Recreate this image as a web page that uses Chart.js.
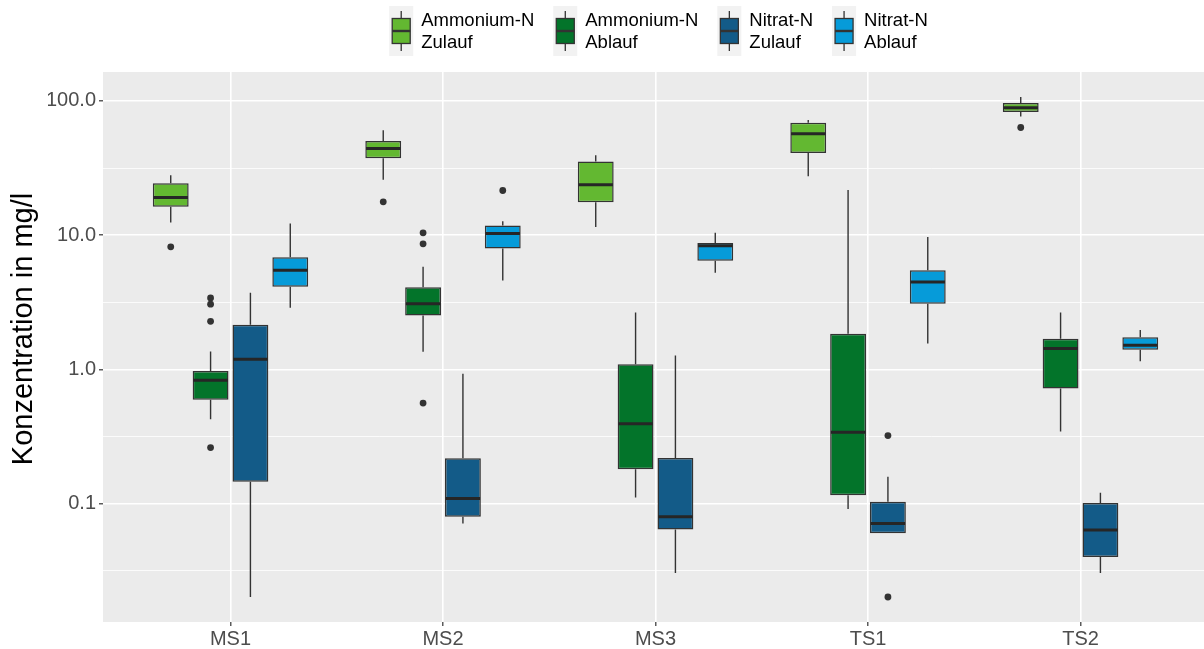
<!DOCTYPE html>
<html>
<head>
<meta charset="utf-8">
<script src="https://cdn.jsdelivr.net/npm/chart.js@4.4.1/dist/chart.umd.min.js"></script>
<style>
  html, body { margin: 0; padding: 0; background: #ffffff; overflow: hidden; }
  #wrap { width: 1208px; height: 649px; position: relative; }
</style>
</head>
<body>
<div id="wrap"><canvas id="c" width="1208" height="649"></canvas></div>
<script>
// ---------------- DATA ----------------
const categories = ['MS1', 'MS2', 'MS3', 'TS1', 'TS2'];
const seriesLabels = [['Ammonium-N', 'Zulauf'], ['Ammonium-N', 'Ablauf'], ['Nitrat-N', 'Zulauf'], ['Nitrat-N', 'Ablauf']];
const seriesColors = ['#63B831', '#03742A', '#135B88', '#069BD9'];
const yTitle = 'Konzentration in mg/l';

// Ammonium-N Zulauf
const amZuLow  = [12.4, 25.9, 11.5, 27.5, 76.6];
const amZuQ1   = [16.3, 37.4, 17.6, 40.9, 82.7];
const amZuMed  = [19.1, 44.2, 23.7, 57.0, 88.9];
const amZuQ3   = [24.4, 50.3, 35.3, 68.9, 96.5];
const amZuHigh = [28.0, 60.4, 39.3, 72.2, 107];
const amZuOut  = [[8.18], [17.7], [], [], [63.4]];

// Ammonium-N Ablauf
const amAbLow  = [0.424, 1.35, 0.111, 0.091, 0.344];
const amAbQ1   = [0.594, 2.52, 0.180, 0.115, 0.718];
const amAbMed  = [0.83, 3.08, 0.393, 0.339, 1.43];
const amAbQ3   = [0.97, 4.09, 1.09, 1.84, 1.69];
const amAbHigh = [1.36, 5.80, 2.65, 21.7, 2.65];
const amAbOut  = [[3.40, 3.06, 2.28, 0.261], [10.4, 8.62, 0.56], [], [], []];

// Nitrat-N Zulauf
const niZuLow  = [0.0201, 0.071, 0.0304, 0.0601, 0.0304];
const niZuQ1   = [0.145, 0.0798, 0.0641, 0.0601, 0.040];
const niZuMed  = [1.19, 0.109, 0.0798, 0.071, 0.0634];
const niZuQ3   = [2.15, 0.217, 0.218, 0.103, 0.101];
const niZuHigh = [3.72, 0.927, 1.27, 0.158, 0.120];
const niZuOut  = [[], [], [], [0.321, 0.0201], []];

// Nitrat-N Ablauf
const niAbLow  = [2.87, 4.60, 5.25, 1.56, 1.15];
const niAbQ1   = [4.12, 7.94, 6.45, 3.08, 1.40];
const niAbMed  = [5.47, 10.3, 8.32, 4.47, 1.51];
const niAbQ3   = [6.85, 11.8, 8.73, 5.47, 1.73];
const niAbHigh = [12.2, 12.7, 10.4, 9.70, 1.96];
const niAbOut  = [[], [21.5], [], [], []];

// y-axis ticks
const majorTicks = [0.1, 1, 10, 100];
const majorTickLabels = ['0.1', '1.0', '10.0', '100.0'];
const minorTicks = [0.0316, 0.316, 3.16, 31.6];

// ---------------- BUILD ----------------
const seriesStats = [
  { low: amZuLow, q1: amZuQ1, med: amZuMed, q3: amZuQ3, high: amZuHigh, out: amZuOut },
  { low: amAbLow, q1: amAbQ1, med: amAbMed, q3: amAbQ3, high: amAbHigh, out: amAbOut },
  { low: niZuLow, q1: niZuQ1, med: niZuMed, q3: niZuQ3, high: niZuHigh, out: niZuOut },
  { low: niAbLow, q1: niAbQ1, med: niAbMed, q3: niAbQ3, high: niAbHigh, out: niAbOut }
];

// y range like ggplot: data range on log scale expanded by 5%
const allVals = [];
seriesStats.forEach(s => { allVals.push(...s.low, ...s.high); s.out.forEach(o => allVals.push(...o)); });
const lmin = Math.log10(Math.min(...allVals)), lmax = Math.log10(Math.max(...allVals));
const lexp = (lmax - lmin) * 0.05;
const yMin = Math.pow(10, lmin - lexp), yMax = Math.pow(10, lmax + lexp);

const FONT = '"Liberation Sans", Arial, "DejaVu Sans", sans-serif';
Chart.defaults.font.family = FONT;

const datasets = seriesStats.map((s, di) => ({
  label: seriesLabels[di].join(' '),
  data: categories.map((c, i) => ({ x: i, y: [s.q1[i], s.q3[i]] })),
  backgroundColor: seriesColors[di],
  borderColor: '#333333',
  borderWidth: 1.5,
  borderSkipped: false,
  categoryPercentage: 0.75,
  barPercentage: 0.9
}));

const boxPlugin = {
  id: 'boxplot',
  beforeDraw(chart) {
    const { ctx, chartArea: a } = chart;
    ctx.save();
    ctx.fillStyle = '#EBEBEB';
    ctx.fillRect(a.left, a.top, a.right - a.left, a.bottom - a.top);
    ctx.restore();
  },
  beforeDatasetsDraw(chart) {
    const ctx = chart.ctx, y = chart.scales.y;
    ctx.save();
    ctx.strokeStyle = '#333333';
    ctx.lineWidth = 1.4;
    seriesStats.forEach((s, di) => {
      chart.getDatasetMeta(di).data.forEach((el, i) => {
        ctx.beginPath();
        ctx.moveTo(el.x, y.getPixelForValue(s.high[i]));
        ctx.lineTo(el.x, y.getPixelForValue(s.q3[i]));
        ctx.moveTo(el.x, y.getPixelForValue(s.q1[i]));
        ctx.lineTo(el.x, y.getPixelForValue(s.low[i]));
        ctx.stroke();
      });
    });
    ctx.restore();
  },
  afterDatasetsDraw(chart) {
    const ctx = chart.ctx, y = chart.scales.y;
    ctx.save();
    seriesStats.forEach((s, di) => {
      chart.getDatasetMeta(di).data.forEach((el, i) => {
        const half = el.width / 2 - 0.75;
        const ym = y.getPixelForValue(s.med[i]);
        ctx.strokeStyle = '#262626';
        ctx.lineWidth = 3;
        ctx.beginPath();
        ctx.moveTo(el.x - half, ym);
        ctx.lineTo(el.x + half, ym);
        ctx.stroke();
        ctx.fillStyle = '#333333';
        s.out[i].forEach(v => {
          ctx.beginPath();
          ctx.arc(el.x, y.getPixelForValue(v), 3.4, 0, Math.PI * 2);
          ctx.fill();
        });
      });
    });
    ctx.restore();
  },
  afterDraw(chart) {
    const ctx = chart.ctx, xs = chart.scales.x;
    ctx.save();
    // y-axis title
    ctx.font = '29px ' + FONT;
    ctx.fillStyle = '#000000';
    ctx.textAlign = 'center';
    ctx.textBaseline = 'middle';
    ctx.translate(24, 329);
    ctx.rotate(-Math.PI / 2);
    ctx.fillText(yTitle, 0, 0);
    ctx.restore();

    // legend at top, centred over the panel
    ctx.save();
    ctx.font = '18.5px ' + FONT;
    const widths = seriesLabels.map(l => Math.max(...l.map(t => ctx.measureText(t).width)));
    const keyW = 24, keyH = 50, keyTop = 6, textGap = 8, itemGap = 19;
    const total = widths.reduce((a, w) => a + keyW + textGap + w, 0) + itemGap * (widths.length - 1);
    let x = (xs.getPixelForValue(2)) + 3 - total / 2;
    seriesLabels.forEach((lines, di) => {
      ctx.fillStyle = '#F2F2F2';
      ctx.fillRect(x, keyTop, keyW, keyH);
      const cx = x + keyW / 2;
      ctx.strokeStyle = '#333333';
      ctx.lineWidth = 1.3;
      ctx.beginPath();
      ctx.moveTo(cx, keyTop + keyH * 0.1);
      ctx.lineTo(cx, keyTop + keyH * 0.9);
      ctx.stroke();
      const bx = x + keyW * 0.125, bw = keyW * 0.75, by = keyTop + keyH * 0.25, bh = keyH * 0.5;
      ctx.fillStyle = seriesColors[di];
      ctx.fillRect(bx, by, bw, bh);
      ctx.strokeRect(bx, by, bw, bh);
      ctx.lineWidth = 2.4;
      ctx.beginPath();
      ctx.moveTo(bx, keyTop + keyH / 2);
      ctx.lineTo(bx + bw, keyTop + keyH / 2);
      ctx.stroke();
      ctx.fillStyle = '#000000';
      ctx.textBaseline = 'alphabetic';
      ctx.textAlign = 'left';
      ctx.fillText(lines[0], x + keyW + textGap, 26);
      ctx.fillText(lines[1], x + keyW + textGap, 48);
      x += keyW + textGap + widths[di] + itemGap;
    });
    ctx.restore();
  }
};

new Chart(document.getElementById('c'), {
  type: 'bar',
  data: { datasets },
  plugins: [boxPlugin],
  options: {
    responsive: false,
    animation: false,
    events: [],
    layout: { padding: { top: 72, left: 48, right: 0, bottom: 0 } },
    plugins: { legend: { display: false }, tooltip: { enabled: false } },
    scales: {
      x: {
        type: 'linear',
        min: -0.6,
        max: 4.6,
        offset: false,
        afterBuildTicks: (scale) => { scale.ticks = categories.map((c, i) => ({ value: i })); },
        afterFit: (scale) => { scale.height = 27; },
        ticks: {
          callback: (v, i) => categories[i],
          font: { size: 20 },
          color: '#4D4D4D',
          padding: 1,
          maxRotation: 0,
          autoSkip: false
        },
        grid: { offset: false, color: '#FFFFFF', lineWidth: 1.6, tickLength: 4, tickColor: '#333333', tickWidth: 1.2 },
        border: { display: false }
      },
      y: {
        type: 'logarithmic',
        min: yMin,
        max: yMax,
        afterBuildTicks: (scale) => {
          scale.ticks = [...majorTicks, ...minorTicks].sort((a, b) => a - b).map(v => ({ value: v }));
        },
        afterFit: (scale) => { scale.width = 55; },
        ticks: {
          callback: (v) => { const k = majorTicks.indexOf(v); return k >= 0 ? majorTickLabels[k] : ''; },
          font: { size: 20 },
          color: '#4D4D4D',
          padding: 3,
          autoSkip: false
        },
        grid: {
          color: '#FFFFFF',
          lineWidth: (c) => (c.tick && majorTicks.includes(c.tick.value)) ? 1.6 : 0.8,
          tickLength: 4,
          tickColor: (c) => (c.tick && majorTicks.includes(c.tick.value)) ? '#333333' : 'rgba(0,0,0,0)',
          tickWidth: 1.2
        },
        border: { display: false }
      }
    }
  }
});
</script>
</body>
</html>
